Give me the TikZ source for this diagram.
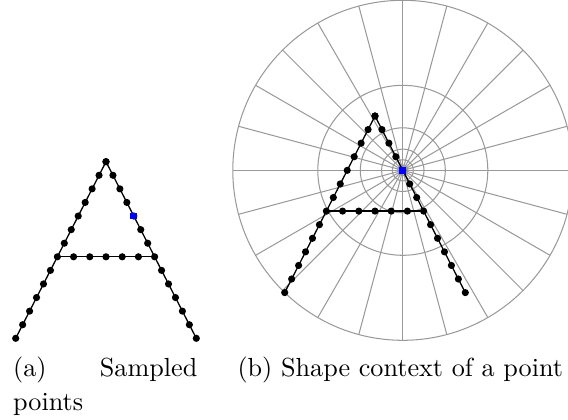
\documentclass[tikz,border=0pt]{standalone}
\usepackage{tikz}
\usetikzlibrary{calc}
\tikzset{
	bin/.style={draw=black!40,line width=0.4pt},
	stroke/.style={draw=black,line width=0.5pt},
	sample/.style={circle,fill=black,inner sep=0pt,minimum size=2.8pt},
	refpoint/.style={rectangle,fill=blue,inner sep=0pt,minimum size=2.6pt},
	caption/.style={inner sep=0pt,anchor=base west,font=\fontsize{10.2}{13.3}\selectfont},
}

\begin{document}
\begin{tikzpicture}[x=0.39pt,y=-0.39pt]
	\useasboundingbox (0,0) rectangle (568,419);

	% Log-polar bins round the reference point
	\begin{scope}
		\clip (0,0) rectangle (568,419);
		\coordinate (centre) at (402.8,170.3);
		\foreach \r in {170,85,42.5,21.25,10.625,5.3125}
			\draw[bin] (centre) circle[radius=\r];
		\foreach \a in {0,15,...,345}
			\draw[bin] (centre) -- ++(\a:170);
	\end{scope}

	% Sampled letter A, once per panel
	\foreach \p/\dx/\dy in {a/0/0,b/269/-45.7}{
		\begin{scope}[shift={(\dx,\dy)}]
			\coordinate (\p top) at (106,161.7);
			\coordinate (\p left) at (15.7,338.3);
			\coordinate (\p right) at (196.3,338.3);
			\coordinate (\p barl) at ($(\p top)!7/13!(\p left)$);
			\coordinate (\p barr) at ($(\p top)!7/13!(\p right)$);

			\draw[stroke] (\p left) -- (\p top) -- (\p right);
			\draw[stroke] (\p barl) -- (\p barr);

			\foreach \i in {0,...,13}{
				\node[sample] (\p l\i) at ($(\p top)!\i/13!(\p left)$) {};
				\node[sample] (\p r\i) at ($(\p top)!\i/13!(\p right)$) {};
			}
			\foreach \i in {1,...,5}
				\node[sample] (\p c\i) at ($(\p barl)!\i/6!(\p barr)$) {};

			\node[refpoint] (\p ref) at (\p r4) {};
		\end{scope}
	}

	% Sub-captions
	\node[caption,align=left,text width=71.8pt] (capa) at (12.7,376) {(a)\hfill Sampled\\points};
	\node[caption] (capb) at (237,376) {(b) Shape context of a point};

\end{tikzpicture}
\end{document}
